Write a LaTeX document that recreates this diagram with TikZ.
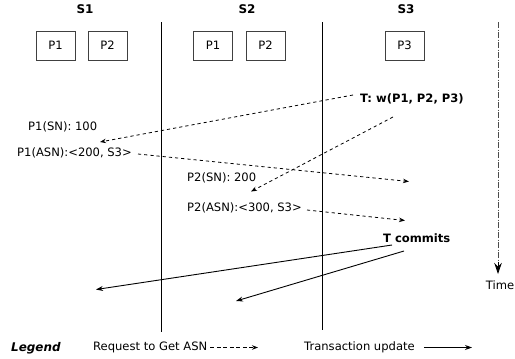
\documentclass[tikz,border=0pt]{standalone}
\usepackage{fontspec}
\setmainfont{DejaVu Sans}
\usetikzlibrary{arrows.meta}
\begin{document}
\begin{tikzpicture}[x=1bp,y=-1bp,
  lbl/.style={inner sep=0pt, anchor=west, font=\fontsize{11.6}{13}\selectfont},
  blbl/.style={lbl, font=\fontsize{11.6}{13}\selectfont\bfseries},
  server/.style={inner sep=0pt, font=\fontsize{12}{13}\selectfont\bfseries},
  part/.style={draw=black!75, line width=0.8bp, minimum width=39bp, minimum height=29bp,
    inner sep=0pt, font=\fontsize{11.6}{13}\selectfont},
  lane/.style={line width=0.9bp},
  req/.style={line width=0.8bp, dash pattern=on 3.2bp off 3bp,
    -{Stealth[length=6bp,width=4.5bp]}},
  upd/.style={line width=0.9bp, -{Stealth[length=7bp,width=5bp]}}]
\useasboundingbox (0,0) rectangle (515,358);

% server headings
\node[server] (s1) at (85,9) {S1};
\node[server] (s2) at (247,9) {S2};
\node[server] (s3) at (406,9) {S3};

% partitions held by each server
\node[part] (s1p1) at (55.5,45.5) {P1};
\node[part] (s1p2) at (107.5,45.5) {P2};
\node[part] (s2p1) at (213,45.5) {P1};
\node[part] (s2p2) at (265.5,45.5) {P2};
\node[part] (s3p3) at (404.5,45.5) {P3};

% server boundaries
\coordinate (l1t) at (161,22);
\coordinate (l1b) at (161,332);
\coordinate (l2t) at (322,22);
\coordinate (l2b) at (322,330);
\draw[lane] (l1t) -- (l1b);
\draw[lane] (l2t) -- (l2b);

% time axis
\coordinate (tt) at (498,22);
\coordinate (tm) at (498,262);
\coordinate (tb) at (498,274);
\draw[black!70, line width=0.8bp, dash pattern=on 6bp off 1.5bp on 1bp off 1.5bp] (tt) -- (tm);
\draw[line width=0.9bp, -{Stealth[length=11bp,width=7.5bp]}] (tm) -- (tb);
\node[lbl, anchor=center] (time) at (500,285) {Time};

% messages and states
\node[blbl] (tw) at (360,99) {T: w(P1, P2, P3)};
\node[lbl] (p1sn) at (28,127) {P1(SN): 100};
\node[lbl] (p1asn) at (17,152.5) {P1(ASN):<200, S3>};
\node[lbl] (p2sn) at (187,178) {P2(SN): 200};
\node[lbl] (p2asn) at (187,208) {P2(ASN):<300, S3>};
\node[blbl] (tc) at (383,238.5) {T commits};

% arrow end points
\coordinate (a1s) at (353,95);
\coordinate (a1e) at (100,142);
\coordinate (a2s) at (393,117);
\coordinate (a2e) at (251,191.5);
\coordinate (a3s) at (138,154);
\coordinate (a3e) at (409,181.5);
\coordinate (a4s) at (307,210);
\coordinate (a4e) at (405,220.5);
\coordinate (c1s) at (392,245);
\coordinate (c1e) at (96,289.5);
\coordinate (c2s) at (404,251);
\coordinate (c2e) at (236,301);

\draw[req] (a1s) -- (a1e);
\draw[req] (a2s) -- (a2e);
\draw[req] (a3s) -- (a3e);
\draw[req] (a4s) -- (a4e);
\draw[upd] (c1s) -- (c1e);
\draw[upd] (c2s) -- (c2e);

% legend
\node[lbl, font=\fontsize{12}{13}\selectfont\bfseries\itshape] (leg) at (11,348) {Legend};
\node[lbl] (lreq) at (93,347.5) {Request to Get ASN};
\coordinate (lreqe) at (258,347.5);
\draw[req, dash pattern=on 4bp off 2.5bp] ([xshift=3bp]lreq.east) -- (lreqe);
\node[lbl] (lupd) at (304,347.5) {Transaction update};
\coordinate (lupde) at (472,347.5);
\draw[upd] ([xshift=9bp]lupd.east) -- (lupde);
\end{tikzpicture}
\end{document}
